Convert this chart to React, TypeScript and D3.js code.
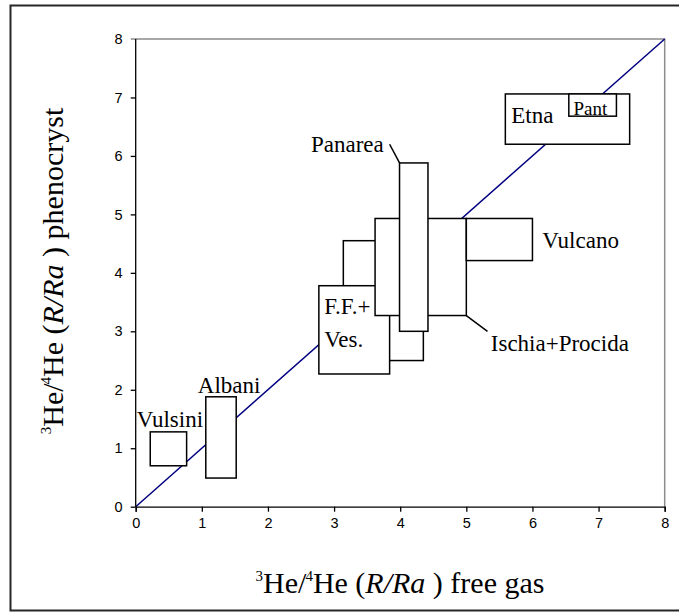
import React, { useEffect, useRef } from 'react';
import * as d3 from 'd3';

// ranges of each field, drawn in this order (later boxes sit on top)
const boxNames = ['Vulsini', 'Albani', 'Vesuvio', 'F.F.+Ves.', 'Ischia+Procida', 'Panarea', 'Vulcano', 'Etna', 'Pant'];
const boxX0 = [0.22, 1.06, 3.14, 2.77, 3.62, 3.99, 5.0, 5.59, 6.55];
const boxX1 = [0.77, 1.52, 4.35, 3.84, 5.0, 4.42, 6.0, 7.47, 7.27];
const boxY0 = [0.7, 0.49, 2.5, 2.27, 3.27, 3.0, 4.21, 6.2, 6.68];
const boxY1 = [1.28, 1.88, 4.55, 3.78, 4.93, 5.88, 4.93, 7.06, 7.06];

// text labels (left edge / baseline in data units)
const labelText = ['Vulsini', 'Albani', 'F.F.+', 'Ves.', 'Panarea', 'Ischia+Procida', 'Vulcano', 'Etna', 'Pant'];
const labelX = [0.015, 0.94, 2.85, 2.85, 2.65, 5.37, 6.15, 5.68, 6.62];
const labelY = [1.37, 1.94, 3.29, 2.74, 6.07, 2.67, 4.42, 6.56, 6.7];
const labelSize = [23, 23, 23, 23, 23, 23, 23, 23, 19];

// leader lines [x1, y1, x2, y2]
const leaders = [
  [3.84, 6.2, 3.99, 5.88],
  [5.0, 3.27, 5.32, 3.0],
];

const xTicks = [0, 1, 2, 3, 4, 5, 6, 7, 8];
const yTicks = [0, 1, 2, 3, 4, 5, 6, 7, 8];

const W = 679;
const H = 612;
const SERIF = '"Liberation Serif", "Times New Roman", serif';
const SANS = '"Liberation Sans", Arial, sans-serif';

function Chart() {
  const ref = useRef<SVGSVGElement>(null);

  useEffect(() => {
    const svg = d3.select(ref.current);
    svg.selectAll('*').remove();

    const x = d3.scaleLinear().domain([0, 8]).range([135.7, 664.7]);
    const y = d3.scaleLinear().domain([0, 8]).range([506.7, 39]);

    // outer frame
    svg.append('rect')
      .attr('x', 10.5).attr('y', 5.5)
      .attr('width', W).attr('height', 605)
      .attr('fill', 'white').attr('stroke', '#262626').attr('stroke-width', 2);

    // top / right plot border
    svg.append('path')
      .attr('d', `M${x(0) - 5},${y(8)}H${x(8)}V${y(0)}`)
      .attr('fill', 'none').attr('stroke', '#8c8c8c').attr('stroke-width', 1.5);

    // 1:1 line
    svg.append('line')
      .attr('x1', x(0)).attr('y1', y(0)).attr('x2', x(8)).attr('y2', y(8))
      .attr('stroke', '#000080').attr('stroke-width', 1.5);

    // boxes
    svg.append('g')
      .selectAll('rect')
      .data(d3.range(boxNames.length))
      .join('rect')
      .attr('x', i => x(boxX0[i]))
      .attr('y', i => y(boxY1[i]))
      .attr('width', i => x(boxX1[i]) - x(boxX0[i]))
      .attr('height', i => y(boxY0[i]) - y(boxY1[i]))
      .attr('fill', 'white').attr('stroke', 'black').attr('stroke-width', 1.5);

    svg.append('g')
      .selectAll('line')
      .data(leaders)
      .join('line')
      .attr('x1', d => x(d[0])).attr('y1', d => y(d[1]))
      .attr('x2', d => x(d[2])).attr('y2', d => y(d[3]))
      .attr('stroke', 'black').attr('stroke-width', 1.5);

    svg.append('g')
      .selectAll('text')
      .data(d3.range(labelText.length))
      .join('text')
      .attr('x', i => x(labelX[i]))
      .attr('y', i => y(labelY[i]))
      .attr('font-family', SERIF)
      .attr('font-size', i => labelSize[i])
      .attr('fill', 'black')
      .text(i => labelText[i]);

    // axes
    const xAxis = d3.axisBottom(x).tickValues(xTicks).tickSize(5).tickPadding(6).tickFormat(d3.format('d'));
    const yAxis = d3.axisLeft(y).tickValues(yTicks.slice(0, -1)).tickSize(5).tickPadding(8).tickFormat(d3.format('d'));

    svg.append('g')
      .attr('transform', `translate(0,${y(0)})`)
      .call(xAxis)
      .call(g => g.select('.domain').attr('stroke', 'black').attr('stroke-width', 1.3))
      .call(g => g.selectAll('.tick line').attr('stroke', 'black').attr('stroke-width', 1.3))
      .call(g => g.selectAll('.tick text').attr('font-family', SANS).attr('font-size', 14.5).attr('fill', 'black'));

    svg.append('g')
      .attr('transform', `translate(${x(0)},0)`)
      .call(yAxis)
      .call(g => g.select('.domain').attr('d', `M0,${y(0)}V${y(8)}`).attr('stroke', 'black').attr('stroke-width', 1.3))
      .call(g => g.selectAll('.tick line').attr('stroke', 'black').attr('stroke-width', 1.3))
      .call(g => g.selectAll('.tick text').attr('font-family', SANS).attr('font-size', 14.5).attr('fill', 'black'));

    // top tick label (its tick is part of the grey border)
    svg.append('text')
      .attr('x', x(0) - 13).attr('y', y(8)).attr('dy', '0.32em')
      .attr('text-anchor', 'end')
      .attr('font-family', SANS).attr('font-size', 14.5).attr('fill', 'black')
      .text(String(yTicks[yTicks.length - 1]));

    // axis titles
    const title = (g: any, tail: string) => {
      g.attr('font-family', SERIF).attr('font-size', 30).attr('fill', 'black').attr('text-anchor', 'middle');
      g.append('tspan').attr('font-size', 15).attr('dy', -12).text('3');
      g.append('tspan').attr('dy', 12).text('He/');
      g.append('tspan').attr('font-size', 15).attr('dy', -12).attr('dx', -1).text('4');
      g.append('tspan').attr('dy', 12).text('He (');
      g.append('tspan').attr('font-style', 'italic').text('R/Ra');
      g.append('tspan').text(' ) ' + tail);
    };

    svg.append('text')
      .attr('x', 400).attr('y', 593)
      .call(title, 'free gas');

    svg.append('text')
      .attr('transform', 'translate(63,271) rotate(-90)')
      .call(title, 'phenocryst');
  }, []);

  return <svg ref={ref} width={W} height={H} style={{ position: 'absolute', left: 0, top: 0 }} />;
}

export default function App() {
  return <Chart />;
}
